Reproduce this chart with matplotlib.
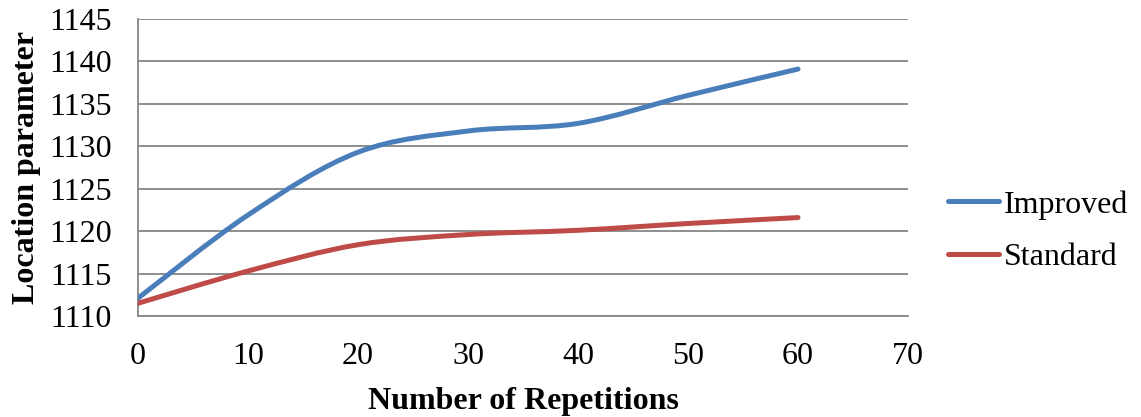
import matplotlib
matplotlib.use("Agg")
import matplotlib.pyplot as plt
from matplotlib.path import Path
from matplotlib.patches import PathPatch
from matplotlib.lines import Line2D
import numpy as np

repetitions = [0, 10, 20, 30, 40, 50, 60]
improved = [1112.1, 1121.9, 1129.3, 1131.8, 1132.7, 1136.0, 1139.1]
standard = [1111.5, 1115.3, 1118.4, 1119.6, 1120.1, 1120.9, 1121.6]
series_names = ["Improved", "Standard"]
colors = ["#4A7EBB", "#BE4B48"]
x_ticks = [0, 10, 20, 30, 40, 50, 60, 70]
y_ticks = [1110, 1115, 1120, 1125, 1130, 1135, 1140, 1145]

FONT = "Liberation Serif"
FS = 23

fig = plt.figure(figsize=(11.41, 4.17), dpi=100)
ax = fig.add_axes([138/1141, 1-316/417, (908-138)/1141, (316-19)/417])


def smooth_path(xs, ys):
    pts = np.column_stack([xs, ys]).astype(float)
    n = len(pts)
    verts = [pts[0]]
    codes = [Path.MOVETO]
    for i in range(n - 1):
        p0 = pts[i - 1] if i > 0 else pts[i]
        p1 = pts[i]
        p2 = pts[i + 1]
        p3 = pts[i + 2] if i + 2 < n else pts[i + 1]
        c1 = p1 + (p2 - p0) / 6.0
        c2 = p2 - (p3 - p1) / 6.0
        verts += [c1, c2, p2]
        codes += [Path.CURVE4] * 3
    return Path(verts, codes)


for ys, c in zip([improved, standard], colors):
    patch = PathPatch(smooth_path(repetitions, ys), facecolor="none",
                      edgecolor=c, lw=3.6, capstyle="round", zorder=3)
    ax.add_patch(patch)

ax.set_xlim(0, 70)
ax.set_ylim(1110, 1145)
ax.set_xticks(x_ticks)
ax.set_yticks(y_ticks)
ax.grid(axis="y", color="#868686", lw=1.3)
ax.set_axisbelow(True)
for s in ["top", "right"]:
    ax.spines[s].set_visible(False)
for s in ["left", "bottom"]:
    ax.spines[s].set_color("#868686")
    ax.spines[s].set_linewidth(1.3)
ax.tick_params(length=0, labelsize=FS)
ax.tick_params(axis="y", pad=19)
ax.tick_params(axis="x", pad=19)
for lab in ax.get_xticklabels() + ax.get_yticklabels():
    lab.set_fontfamily(FONT)

ax.set_xlabel("Number of Repetitions", fontfamily=FONT, fontweight="bold",
              fontsize=FS, labelpad=11)
ax.set_ylabel("Location parameter", fontfamily=FONT, fontweight="bold",
              fontsize=FS, labelpad=6)

handles = [Line2D([], [], color=c, lw=3.6, solid_capstyle="round") for c in colors]
leg = fig.legend(handles, series_names, loc="center left",
                 bbox_to_anchor=(948/1141, 1-231/417), frameon=False,
                 prop={"family": FONT, "size": FS}, handlelength=1.6,
                 handletextpad=0.15, labelspacing=0.72,
                 borderpad=0, borderaxespad=0)

fig.savefig("out.png", dpi=100)
